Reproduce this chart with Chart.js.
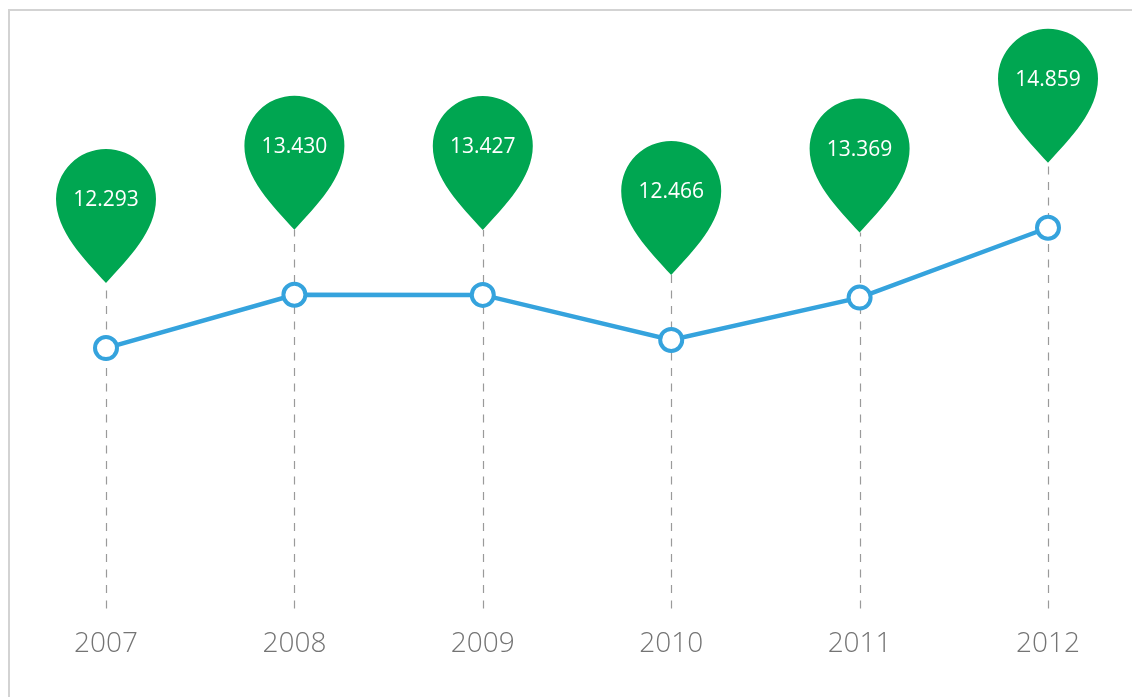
<!DOCTYPE html>
<html>
<head>
<meta charset="utf-8">
<script src="https://cdn.jsdelivr.net/npm/chart.js@4.4.1/dist/chart.umd.min.js"></script>
<style>
  html, body { margin: 0; padding: 0; background: #ffffff; overflow: hidden; }
  #frame { position: absolute; left: 8px; top: 9px; width: 2000px; height: 2000px;
           border-top: 2px solid #d3d3d3; border-left: 2px solid #d3d3d3; box-sizing: border-box; }
  #wrap { position: absolute; left: 0; top: 0; width: 1132px; height: 697px; }
</style>
</head>
<body>
<div id="frame"></div>
<div id="wrap"><canvas id="c" width="1132" height="697"></canvas></div>
<script>
// ---- data ----
const years = ['2007', '2008', '2009', '2010', '2011', '2012'];
const values = [12.293, 13.430, 13.427, 12.466, 13.369, 14.859];
const valueLabels = ['12.293', '13.430', '13.427', '12.466', '13.369', '14.859'];

const GREEN = '#00a651';
const BLUE = '#35a3dd';

function pinPath(ctx, x, tipY) {
  const r = 50, d = 84;
  const cy = tipY - d;
  ctx.beginPath();
  ctx.moveTo(x + r, cy);
  ctx.arc(x, cy, r, 0, Math.PI, true);
  ctx.bezierCurveTo(x - r, cy + 32, x - 22, cy + 60, x, tipY);
  ctx.bezierCurveTo(x + 22, cy + 60, x + r, cy + 32, x + r, cy);
  ctx.closePath();
}

const dropLines = {
  id: 'dropLines',
  beforeDatasetsDraw(chart) {
    const ctx = chart.ctx;
    const meta = chart.getDatasetMeta(0);
    const bottom = chart.chartArea.bottom;
    ctx.save();
    ctx.strokeStyle = '#9a9a9a';
    ctx.lineWidth = 1.2;
    ctx.setLineDash([8, 7.5]);
    meta.data.forEach(pt => {
      const x = Math.round(pt.x) + 0.5;
      ctx.beginPath();
      ctx.moveTo(x, bottom);
      ctx.lineTo(x, pt.y - 65);
      ctx.stroke();
    });
    ctx.restore();
  },
  afterDatasetsDraw(chart) {
    const ctx = chart.ctx;
    const meta = chart.getDatasetMeta(0);
    ctx.save();
    meta.data.forEach((pt, i) => {
      const tipY = pt.y - 65;
      pinPath(ctx, pt.x, tipY);
      ctx.fillStyle = GREEN;
      ctx.fill();
      ctx.fillStyle = '#ffffff';
      ctx.font = '21px "Open Sans", sans-serif';
      ctx.textAlign = 'center';
      ctx.textBaseline = 'middle';
      ctx.fillText(valueLabels[i], pt.x, tipY - 84 + 1);
    });
    ctx.restore();
  }
};

new Chart(document.getElementById('c'), {
  type: 'line',
  data: {
    labels: years,
    datasets: [{
      data: values,
      borderColor: BLUE,
      borderWidth: 4.5,
      tension: 0,
      pointRadius: 11,
      pointBorderWidth: 4,
      pointBackgroundColor: '#ffffff',
      pointBorderColor: BLUE,
      fill: false
    }]
  },
  options: {
    responsive: false,
    animation: false,
    events: [],
    layout: { padding: { left: 106, right: 84, top: 20, bottom: 17 } },
    plugins: { legend: { display: false }, tooltip: { enabled: false } },
    scales: {
      x: {
        offset: false,
        grid: { display: false, drawTicks: false },
        border: { display: false },
        ticks: {
          padding: 19,
          color: '#747474',
          font: { family: '"Open Sans", sans-serif', size: 28, weight: 300 },
          maxRotation: 0
        }
      },
      y: {
        display: false,
        min: 6.74,
        max: 19.29
      }
    }
  },
  plugins: [dropLines]
});
</script>
</body>
</html>
